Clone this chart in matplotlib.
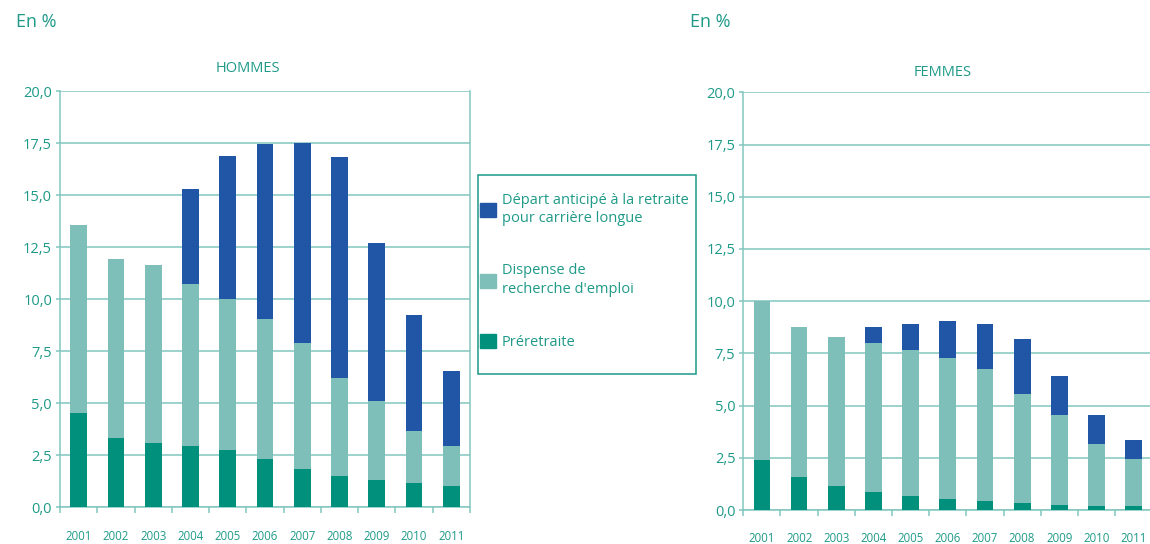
import numpy as np
import matplotlib
matplotlib.use("Agg")
import matplotlib.pyplot as plt
from matplotlib.patches import Patch, Rectangle

plt.rcParams['font.family'] = ['Open Sans', 'DejaVu Sans']

# données (en %)
years = ['2001', '2002', '2003', '2004', '2005', '2006', '2007', '2008', '2009', '2010', '2011']

h_preretraite = [4.54, 3.34, 3.10, 2.95, 2.76, 2.33, 1.85, 1.51, 1.32, 1.17, 1.03]
h_dispense = [9.01, 8.58, 8.53, 7.76, 7.27, 6.74, 6.02, 4.72, 3.80, 2.51, 1.92]
h_carriere = [0.0, 0.0, 0.0, 4.57, 6.84, 8.37, 9.62, 10.59, 7.58, 5.58, 3.61]

f_preretraite = [2.40, 1.58, 1.15, 0.86, 0.67, 0.53, 0.43, 0.34, 0.24, 0.19, 0.19]
f_dispense = [7.60, 7.19, 7.14, 7.14, 7.00, 6.75, 6.33, 5.22, 4.31, 2.97, 2.25]
f_carriere = [0.0, 0.0, 0.0, 0.77, 1.24, 1.78, 2.15, 2.63, 1.87, 1.39, 0.91]

labels = ['Départ anticipé à la retraite\npour carrière longue',
          'Dispense de\nrecherche d\'emploi',
          'Préretraite']
yticks = [0, 2.5, 5, 7.5, 10, 12.5, 15, 17.5, 20]

c_carriere = '#2155a6'
c_dispense = '#7fbfba'
c_pre = '#00907b'
c_text = '#1f9a88'
c_grid = '#82c6be'

W, H = 1150, 544
fig = plt.figure(figsize=(W / 100, H / 100), dpi=100)


def draw(ax, pre, disp, carr):
    x = np.arange(len(years))
    pre = np.array(pre)
    disp = np.array(disp)
    carr = np.array(carr)
    bw = 0.45
    ax.bar(x, pre, bw, color=c_pre, zorder=3)
    ax.bar(x, disp, bw, bottom=pre, color=c_dispense, zorder=3)
    ax.bar(x, carr, bw, bottom=pre + disp, color=c_carriere, zorder=3)
    ax.set_xlim(-0.5, len(years) - 0.5)
    ax.set_ylim(0, 20)
    ax.set_yticks(yticks)
    ax.set_yticklabels([f'{v:.1f}'.replace('.', ',') for v in yticks])
    # traits de graduation entre les années, étiquettes au centre
    ax.set_xticks(np.arange(len(years) + 1) - 0.5)
    ax.set_xticklabels([])
    ax.set_xticks(x, minor=True)
    ax.set_xticklabels(years, minor=True)
    ax.tick_params(axis='x', which='major', length=4.5, width=1.1, color=c_grid)
    ax.tick_params(axis='x', which='minor', length=0, pad=16, labelsize=8.3, labelcolor=c_text)
    ax.tick_params(axis='y', length=3, width=1.1, color=c_grid, pad=2.7,
                   labelsize=10.5, labelcolor=c_text)
    ax.grid(axis='y', color=c_grid, linewidth=1.1, zorder=0)
    ax.set_axisbelow(True)
    ax.spines['top'].set_visible(False)
    for s in ['left', 'right', 'bottom']:
        ax.spines[s].set_color(c_grid)
        ax.spines[s].set_linewidth(1.1)


ax1 = fig.add_axes([60 / W, 1 - 507.3 / H, 410 / W, 416.3 / H])
draw(ax1, h_preretraite, h_dispense, h_carriere)

ax2 = fig.add_axes([743.3 / W, 1 - 510 / H, 409 / W, 417.7 / H])
draw(ax2, f_preretraite, f_dispense, f_carriere)

fig.text(16 / W, 1 - 22 / H, 'En %', fontsize=13, color=c_text, ha='left', va='center')
fig.text(690 / W, 1 - 22 / H, 'En %', fontsize=13, color=c_text, ha='left', va='center')
fig.text(247.5 / W, 1 - 69 / H, 'HOMMES', fontsize=10.5, color=c_text, ha='center', va='center')
fig.text(943 / W, 1 - 72 / H, 'FEMMES', fontsize=10.5, color=c_text, ha='center', va='center')

# légende
handles = [Patch(color=c_carriere), Patch(color=c_dispense), Patch(color=c_pre)]
leg = fig.legend(handles, labels, loc='upper left',
                 bbox_to_anchor=(480 / W, 1 - 193 / H), frameon=False,
                 fontsize=10.5, labelcolor=c_text, handlelength=1.1, handleheight=1.1,
                 handletextpad=0.4, labelspacing=2.55, borderpad=0, borderaxespad=0)
for t in leg.get_texts():
    t.set_linespacing(1.3)
fig.patches.append(Rectangle((478 / W, 1 - 374 / H), 218 / W, 199 / H,
                             transform=fig.transFigure, fill=False,
                             edgecolor='#1a9a88', linewidth=1.1))

fig.savefig('out.png', dpi=100)
